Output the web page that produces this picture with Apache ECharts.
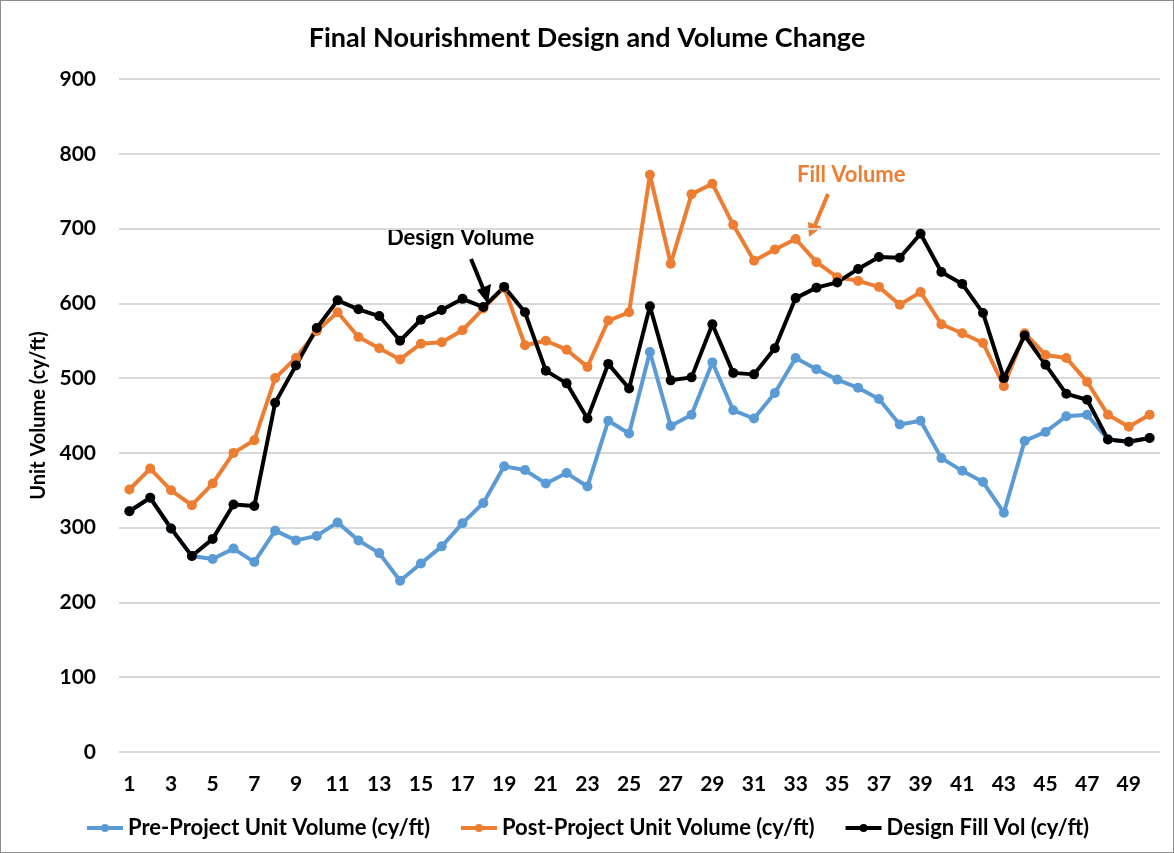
<!DOCTYPE html>
<html>
<head>
<meta charset="utf-8">
<script src="https://cdn.jsdelivr.net/npm/echarts@6/dist/echarts.min.js"></script>
<style>
  html, body { margin: 0; padding: 0; background: #fff; }
  #main { width: 1172px; height: 851px; border: 1px solid #8c8c8c; }
</style>
</head>
<body>
<div id="main"></div>
<script>
// profile numbers 1..50
const profiles = Array.from({ length: 50 }, (_, i) => String(i + 1))

const preProject = [322, 340, 299, 262, 258, 272, 254, 296, 283, 289,
  307, 283, 266, 229, 252, 275, 306, 333, 382, 377,
  359, 373, 355, 443, 426, 535, 436, 451, 521, 457,
  446, 480, 527, 512, 498, 487, 472, 438, 443, 393,
  376, 361, 320, 416, 428, 449, 451, 418, 415, 420]

const postProject = [351, 379, 350, 330, 359, 400, 417, 500, 527, 563,
  588, 555, 540, 525, 546, 548, 564, 593, 621, 544,
  550, 538, 515, 577, 588, 772, 653, 746, 760, 705,
  657, 672, 686, 655, 635, 630, 622, 598, 615, 572,
  560, 547, 489, 560, 531, 527, 495, 451, 435, 451]

const designFill = [322, 340, 299, 262, 285, 331, 329, 467, 517, 567,
  604, 592, 583, 550, 578, 591, 606, 595, 622, 588,
  510, 493, 446, 519, 486, 596, 497, 501, 572, 507,
  505, 540, 607, 621, 628, 646, 662, 661, 693, 642,
  626, 587, 500, 557, 518, 479, 471, 418, 415, 420]

const yTicks = [0, 100, 200, 300, 400, 500, 600, 700, 800, 900]

const FONT = 'Lato'
const myChart = echarts.init(document.getElementById('main'))

function lineSeries (name, data, color) {
  return {
    name: name,
    type: 'line',
    data: data,
    symbol: 'circle',
    symbolSize: 10,
    lineStyle: { color: color, width: 4 },
    itemStyle: { color: color },
    emphasis: { disabled: true }
  }
}

myChart.setOption({
  animation: false,
  title: {
    text: 'Final Nourishment Design and Volume Change',
    left: 'center',
    top: 19,
    textStyle: { fontFamily: FONT, fontSize: 27, fontWeight: 'bold', color: '#000' }
  },
  legend: {
    bottom: 8,
    left: 'center',
    itemGap: 29,
    itemWidth: 36,
    itemHeight: 10,
    lineStyle: { width: 4 },
    textStyle: { fontFamily: FONT, fontSize: 22, fontWeight: 'bold', color: '#000' },
    data: ['Pre-Project Unit Volume (cy/ft)', 'Post-Project Unit Volume (cy/ft)', 'Design Fill Vol (cy/ft)']
  },
  grid: {
    left: 118,
    right: 13,
    top: 78,
    bottom: 100
  },
  xAxis: {
    type: 'category',
    data: profiles,
    boundaryGap: true,
    axisLine: { show: false },
    axisTick: { show: false },
    axisLabel: {
      interval: 1,
      margin: 22,
      fontFamily: FONT,
      fontSize: 21,
      fontWeight: 'bold',
      color: '#000'
    }
  },
  yAxis: {
    type: 'value',
    min: yTicks[0],
    max: yTicks[yTicks.length - 1],
    interval: 100,
    name: 'Unit Volume (cy/ft)',
    nameLocation: 'middle',
    nameGap: 66,
    nameTextStyle: { fontFamily: FONT, fontSize: 20, fontWeight: 'bold', color: '#000' },
    axisLabel: {
      margin: 23,
      fontFamily: FONT,
      fontSize: 21,
      fontWeight: 'bold',
      color: '#000'
    },
    splitLine: { lineStyle: { color: '#d9d9d9', width: 2 } }
  },
  graphic: [
    {
      type: 'text', left: 386, top: 226,
      style: { text: 'Design Volume', fill: '#000', font: 'bold 22px Lato' }
    },
    {
      type: 'line',
      shape: { x1: 470, y1: 258, x2: 484, y2: 292 },
      style: { stroke: '#000', lineWidth: 4 }
    },
    {
      type: 'polygon',
      shape: { points: [[476, 289], [490, 283], [487, 303]] },
      style: { fill: '#000' }
    },
    {
      type: 'text', left: 796, top: 163,
      style: { text: 'Fill Volume', fill: '#ED7D31', font: 'bold 22px Lato' }
    },
    {
      type: 'line',
      shape: { x1: 827, y1: 193, x2: 814, y2: 224 },
      style: { stroke: '#ED7D31', lineWidth: 4 }
    },
    {
      type: 'polygon',
      shape: { points: [[807, 221], [821, 226], [808, 236]] },
      style: { fill: '#ED7D31' }
    }
  ],
  series: [
    lineSeries('Pre-Project Unit Volume (cy/ft)', preProject, '#5B9BD5'),
    lineSeries('Post-Project Unit Volume (cy/ft)', postProject, '#ED7D31'),
    lineSeries('Design Fill Vol (cy/ft)', designFill, '#000000')
  ]
})
</script>
</body>
</html>
